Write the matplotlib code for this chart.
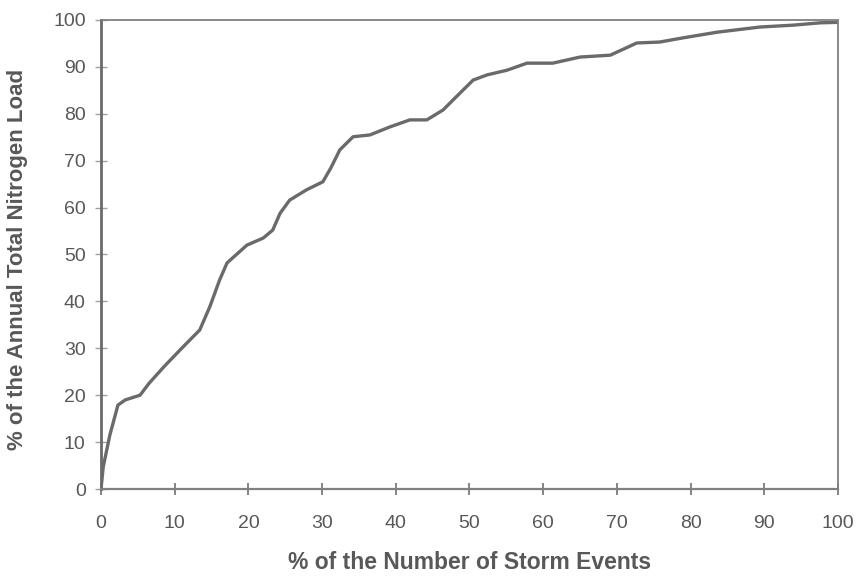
import matplotlib.pyplot as plt

plt.rcParams['font.family'] = ['Liberation Sans', 'DejaVu Sans']

#--- Cumulative curve
storm_pct = [0, 0.3, 1.2, 2.3, 3.3, 5.3, 6.5, 8.5, 10.7, 12.2, 13.4, 14.8, 16.1, 17.1,
             19.8, 22.0, 23.3, 24.3, 25.6, 27.9, 30.1, 31.2, 32.4, 34.2, 36.5, 39.2,
             41.9, 44.2, 46.4, 48.7, 50.5, 52.4, 55.1, 57.8, 61.3, 65.0, 69.1, 72.7,
             75.8, 79.0, 83.6, 89.4, 93.9, 97.6, 100]
load_pct = [0, 4.7, 11.5, 17.9, 19.0, 20.0, 22.5, 26.0, 29.6, 32.0, 33.9, 39.0, 44.6, 48.2,
            52.0, 53.5, 55.2, 58.8, 61.6, 63.8, 65.5, 68.5, 72.3, 75.1, 75.5, 77.2,
            78.7, 78.7, 80.8, 84.4, 87.2, 88.3, 89.3, 90.8, 90.8, 92.1, 92.5, 95.1,
            95.3, 96.2, 97.4, 98.5, 98.9, 99.4, 99.5]

ticks = list(range(0, 101, 10))

gray = '#6a6a6a'
text_gray = '#585858'

fig = plt.figure(figsize=(8.59, 5.77), dpi=100)
ax = fig.add_axes([101 / 859, 1 - 489 / 577, 737 / 859, 469 / 577])

ax.plot(storm_pct, load_pct, color=gray, linewidth=2.4, solid_joinstyle='round')

ax.set_xlim(0, 100)
ax.set_ylim(0, 100)
ax.set_xticks(ticks)
ax.set_yticks(ticks)

for s in ax.spines.values():
    s.set_color('#808080')
    s.set_linewidth(1.3)
ax.spines['left'].set_linewidth(2.0)
ax.spines['left'].set_color('#6a6a6a')
ax.spines['bottom'].set_linewidth(1.6)

ax.tick_params(axis='x', direction='inout', length=8, width=1.2, colors='#707070',
               labelcolor=text_gray, labelsize=14, pad=15)
ax.tick_params(axis='y', direction='inout', length=8, width=1.0, colors='#a0a0a0',
               labelcolor=text_gray, labelsize=14, pad=7)

ax.set_xlabel('% of the Number of Storm Events', fontsize=16.5, fontweight='bold',
              color=text_gray)
ax.set_ylabel('% of the Annual Total Nitrogen Load', fontsize=16, fontweight='bold',
              color=text_gray)
ax.xaxis.set_label_coords(0.5, -0.156)
ax.yaxis.set_label_coords(-0.113, 0.49)
ax.xaxis.label.set_va('center')
ax.yaxis.label.set_va('center')

fig.savefig('out.png', dpi=100)
plt.close()
